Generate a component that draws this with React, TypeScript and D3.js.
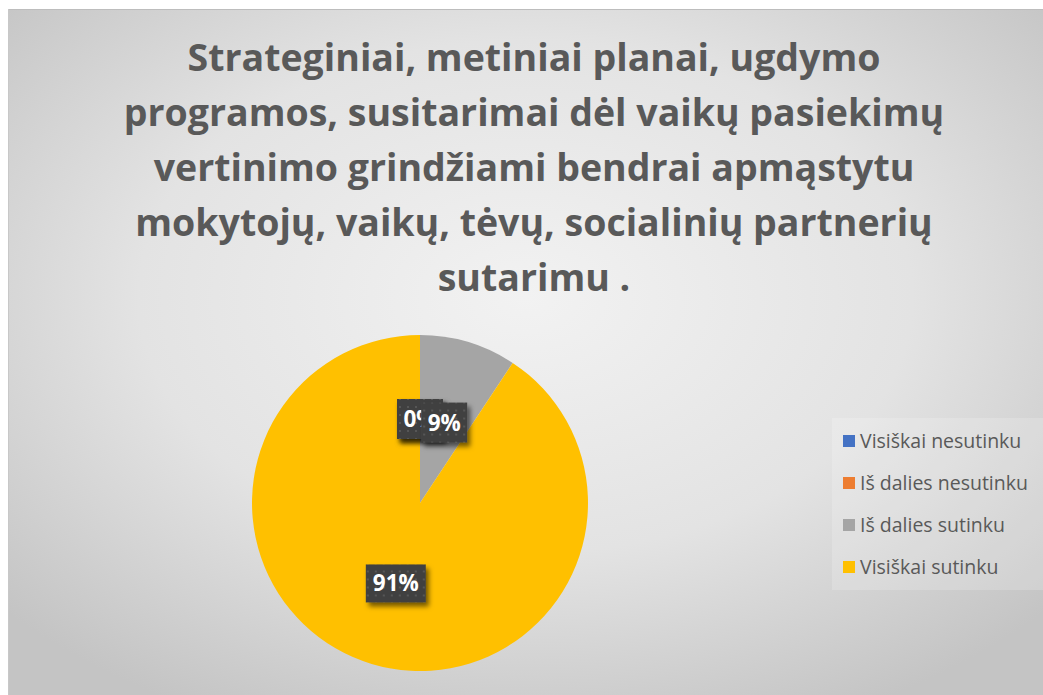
import React from "react";
import * as d3 from "d3";

const categories = ["Visiškai nesutinku", "Iš dalies nesutinku", "Iš dalies sutinku", "Visiškai sutinku"];
const values = [0, 0, 9.3, 90.7];
const colors = ["#4472C4", "#ED7D31", "#A5A5A5", "#FFC000"];
const titleLines = [
  "Strateginiai, metiniai planai, ugdymo",
  "programos, susitarimai dėl vaikų pasiekimų",
  "vertinimo grindžiami bendrai apmąstytu",
  "mokytojų, vaikų, tėvų, socialinių partnerių",
  "sutarimu .",
];

const W = 1043;
const H = 695;
const pct = d3.format(".0%");

export default function App() {
  const cx = 420, cy = 503, r = 168;
  const total = d3.sum(values);
  const pie = d3.pie<number>().value((d) => d).sort(null);
  const arcs = pie(values);
  const arc = d3.arc<d3.PieArcDatum<number>>().innerRadius(0).outerRadius(r);
  const labelArc = d3.arc<d3.PieArcDatum<number>>().innerRadius(r * 0.5).outerRadius(r * 0.5);

  const legendY = d3.scaleBand<number>().domain(d3.range(categories.length)).range([420, 588]);

  return (
    <svg width={W} height={H} style={{ position: "absolute", left: 0, top: 0 }} fontFamily="'Open Sans', sans-serif">
      <defs>
        <radialGradient id="bg" cx="50%" cy="42%" r="68%">
          <stop offset="0%" stopColor="#f2f2f2" />
          <stop offset="55%" stopColor="#e3e3e3" />
          <stop offset="100%" stopColor="#c4c4c4" />
        </radialGradient>
        <pattern id="dots" width="8" height="8" patternUnits="userSpaceOnUse">
          <rect width="8" height="8" fill="#404040" />
          <rect x="3" y="3" width="2" height="2" fill="#565656" />
        </pattern>
        <filter id="shadow" x="-30%" y="-30%" width="160%" height="160%">
          <feDropShadow dx="3" dy="4" stdDeviation="2.5" floodColor="#000" floodOpacity="0.55" />
        </filter>
      </defs>
      <rect x={8} y={9} width={W - 8} height={H - 9} fill="url(#bg)" />
      <line x1={8} x2={W} y1={9.5} y2={9.5} stroke="#bdbdbd" strokeWidth={1} />
      <line x1={8.5} x2={8.5} y1={9} y2={H} stroke="#c8c8c8" strokeWidth={1} />

      <g fill="#595959" fontWeight={700} fontSize={37.5} textAnchor="middle">
        {titleLines.map((t, i) => (
          <text key={i} x={534} y={71 + i * 55}>{t}</text>
        ))}
      </g>

      <g transform={`translate(${cx},${cy})`}>
        {arcs.map((a, i) => (
          <path key={i} d={arc(a) || ""} fill={colors[i]} />
        ))}
        {arcs.map((a, i) => {
          const [lx, ly] = labelArc.centroid(a);
          const label = pct(a.data / total);
          const w = label.length > 2 ? 60 : 46;
          const h = label.length > 2 ? 38 : 40;
          return (
            <g key={"l" + i} transform={`translate(${lx},${ly})`}>
              <rect x={-w / 2} y={-h / 2} width={w} height={h} fill="url(#dots)" filter="url(#shadow)" />
              <text y={8} textAnchor="middle" fill="#ffffff" fontWeight={700} fontSize={22.5}>{label}</text>
            </g>
          );
        })}
      </g>

      <rect x={832} y={418} width={215} height={172} fill="#ffffff" fillOpacity={0.18} />
      {categories.map((c, i) => {
        const y = (legendY(i) || 0) + legendY.bandwidth() / 2;
        return (
          <g key={c} transform={`translate(843,${y})`}>
            <rect x={0} y={-6} width={12} height={12} fill={colors[i]} />
            <text x={17} y={7} fill="#595959" fontSize={19.5}>{c}</text>
          </g>
        );
      })}
    </svg>
  );
}
